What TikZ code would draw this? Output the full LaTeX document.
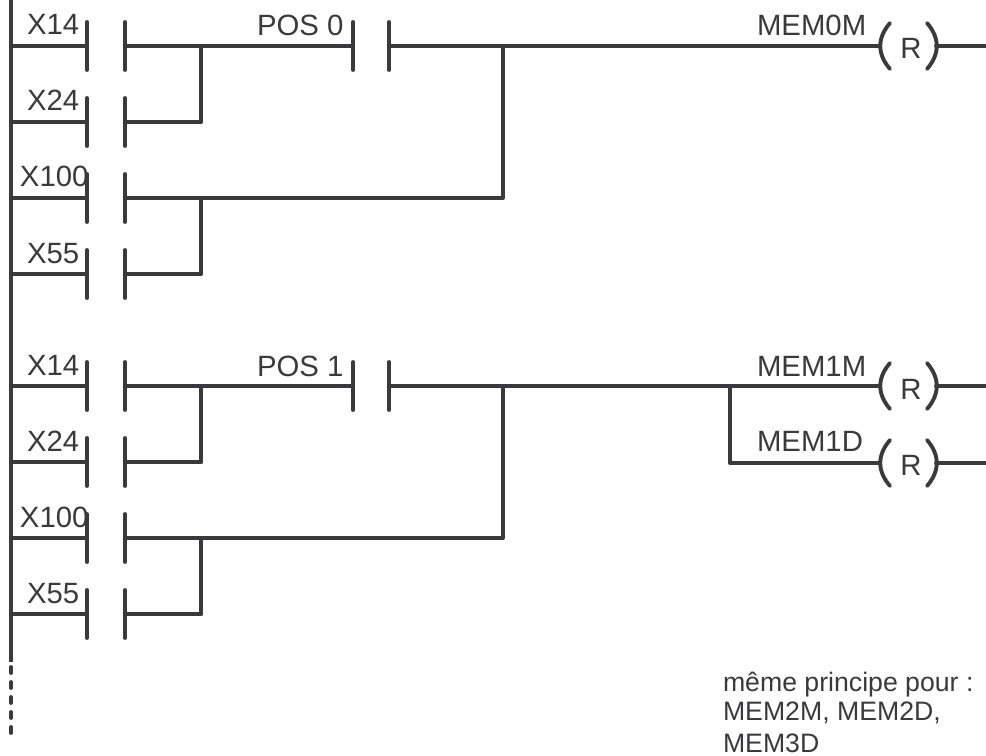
\documentclass[tikz,border=0pt]{standalone}
\usepackage{fontspec}
\setmainfont{Liberation Sans}
\definecolor{ink}{RGB}{58,58,62}
\tikzset{
  x=0.75pt,y=-0.75pt,
  wire/.style={draw=ink,line width=2.9pt,line cap=round,line join=round},
  bar/.style={wire,line cap=round},
  lbl/.style={anchor=base west,inner sep=0pt,outer sep=0pt,text=ink,font=\fontsize{22}{22}\selectfont},
  note/.style={anchor=base west,inner sep=0pt,outer sep=0pt,text=ink,font=\fontsize{20}{20}\selectfont},
}
\begin{document}
\begin{tikzpicture}
\useasboundingbox (0,0) rectangle (986,756);
% rail
\coordinate (railtop) at (11,0);
\coordinate (railend) at (11,662);
\coordinate (dotstart) at (11,667);
\coordinate (dotend) at (11,735);
\draw[wire,line cap=butt] (railtop) -- (railend);
\draw[wire,dash pattern=on 4.5pt off 6.75pt] (dotstart) -- (dotend);
% contacts on rungs: left wire, left bar, right bar
\foreach \r/\y/\t/\tx in {a/46/X14/27,b/122/X24/27,c/198/X100/20,d/274/X55/27,e/386/X14/27,f/462/X24/27,g/538/X100/20,h/614/X55/27}{
  \coordinate (\r0) at (11,\y);
  \coordinate (\r1) at (87,\y);
  \coordinate (\r2) at (125,\y);
  \coordinate (\r3) at (201,\y);
  \draw[wire] (\r0) -- (\r1);
  \draw[bar] (87,\y-24) -- (87,\y+24);
  \draw[bar] (125,\y-24) -- (125,\y+24);
  \draw[wire] (\r2) -- (\r3);
  \node[lbl] (t\r) at (\tx,\y-11) {\t};
}
\draw[wire] (a3) -- (b3);
\draw[wire] (c3) -- (d3);
\draw[wire] (e3) -- (f3);
\draw[wire] (g3) -- (h3);
% POS contacts + output wires
\foreach \r/\y/\t/\m/\rr in {a/46/POS 0/MEM0M/59,e/386/POS 1/MEM1M/399}{
  \coordinate (\r4) at (353,\y);
  \coordinate (\r5) at (389,\y);
  \coordinate (\r6) at (503,\y);
  \coordinate (\r7) at (880,\y);
  \coordinate (\r8) at (936,\y);
  \coordinate (\r9) at (986,\y);
  \draw[wire] (\r3) -- (\r4);
  \draw[bar] (353,\y-24) -- (353,\y+24);
  \draw[bar] (389,\y-24) -- (389,\y+24);
  \draw[wire] (\r5) -- (\r7);
  \draw[wire] (\r8) -- (\r9);
  \node[lbl] (p\r) at (257,\y-10) {\t};
  \node[lbl] (m\r) at (757,\y-10) {\m};
  \node[lbl,anchor=base] (r\r) at (911,\rr) {R};
  \draw[wire] (890,\y-23) .. controls (877,\y-8) and (877,\y+8) .. (890,\y+23);
  \draw[wire] (927,\y-23) .. controls (940,\y-8) and (940,\y+8) .. (927,\y+23);
}
\coordinate (c6) at (503,198);
\coordinate (g6) at (503,538);
\draw[wire] (c3) -- (c6) -- (a6);
\draw[wire] (g3) -- (g6) -- (e6);
% second coil
\coordinate (k0) at (730,386);
\coordinate (k1) at (730,463);
\coordinate (k2) at (880,463);
\coordinate (k3) at (936,463);
\coordinate (k4) at (986,463);
\draw[wire] (k0) -- (k1) -- (k2);
\draw[wire] (k3) -- (k4);
\node[lbl] (mk) at (757,451) {MEM1D};
\node[lbl,anchor=base] (rk) at (911,475) {R};
\draw[wire] (890,440) .. controls (877,455) and (877,471) .. (890,486);
\draw[wire] (927,440) .. controls (940,455) and (940,471) .. (927,486);
% note
\node[note] (n1) at (723,691) {même principe pour :};
\node[note] (n2) at (723,720) {MEM2M, MEM2D,};
\node[note] (n3) at (723,752) {MEM3D};
\end{tikzpicture}
\end{document}
